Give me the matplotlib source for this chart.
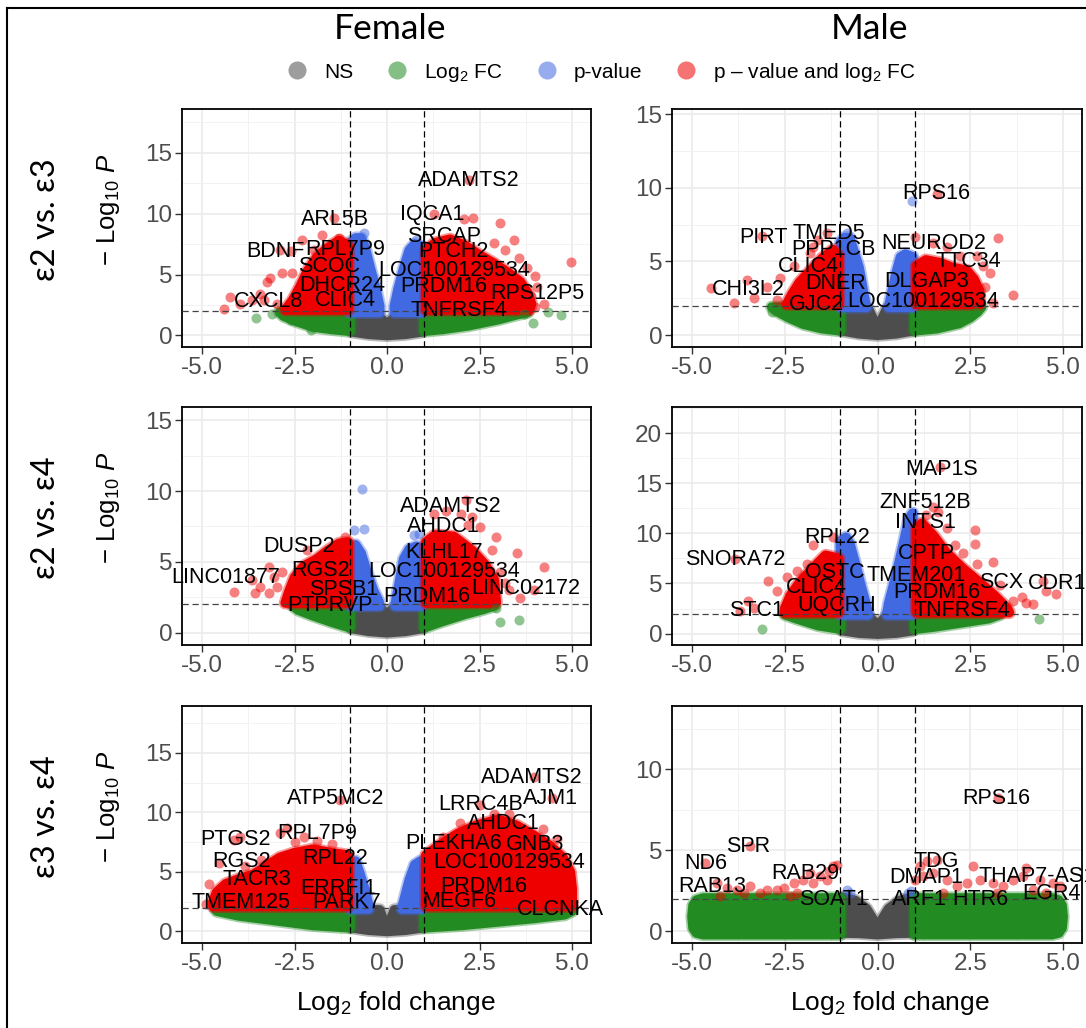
"""Volcano plots (Female / Male, three APOE genotype contrasts)."""

import matplotlib
matplotlib.use("Agg")
import matplotlib.pyplot as plt
from matplotlib.lines import Line2D

plt.rcParams["font.family"] = ["Liberation Sans", "DejaVu Sans"]
plt.rcParams["mathtext.fontset"] = "custom"
plt.rcParams["mathtext.rm"] = "Liberation Sans"
plt.rcParams["mathtext.it"] = "Liberation Sans:italic"

W, H = 1086, 1028
TITLE_FONT = ["Lato", "Noto Sans", "DejaVu Sans"]

NS_COL = "#4D4D4D"     # grey30
FC_COL = "#228B22"     # forestgreen
P_COL = "#4169E1"      # royalblue
BOTH_COL = "#EE0000"   # red2

COLUMNS = ["Female", "Male"]
ROWS = ["\u03b52 vs. \u03b53", "\u03b52 vs. \u03b54", "\u03b53 vs. \u03b54"]
LEGEND_LABELS = ["NS", "Log$_2$ FC", "p-value", "p \u2013 value and log$_2$ FC"]
X_TICKS = [-5.0, -2.5, 0.0, 2.5, 5.0]
FC_CUT = 1.0
P_CUT = 2.0

# ---------------------------------------------------------------
# Point clouds: dense regions are given as the
# outline of the point centres, sparse points individually.
# ---------------------------------------------------------------

# Female, e2 vs e3
F23_YLIM = (-0.95, 18.6)
F23_YTICKS = [0, 5, 10, 15]
F23_NS = [(-0.95, 0.3), (-0.95, 1.8), (-0.3, 1.8), (-0.1, 1.2), (0, 0.85), (0.1, 1.2),
          (0.3, 1.8), (0.95, 1.8), (0.95, 0.3), (0.5, 0.1), (0, 0.0), (-0.5, 0.1)]
F23_FC_L = [(-1.0, 0.35), (-1.5, 0.5), (-2.0, 0.7), (-2.5, 1.2), (-2.8, 1.6), (-2.9, 1.9), (-1.0, 1.9)]
F23_FC_R = [(1.0, 0.35), (1.5, 0.5), (2.2, 0.8), (3.0, 1.3), (3.5, 1.7), (3.8, 1.9), (1.0, 1.9)]
F23_FC_PTS = [(-3.55, 1.45), (-3.1, 1.8), (-2.6, 1.25), (-2.05, 0.45), (3.7, 1.8), (3.95, 1.0),
              (4.35, 1.9), (4.7, 1.65)]
F23_P_L = [(-1.0, 1.9), (-1.0, 7.6), (-0.85, 8.0), (-0.7, 8.0), (-0.6, 7.3), (-0.45, 5.5),
           (-0.3, 3.8), (-0.2, 2.4), (-0.2, 1.9)]
F23_P_R = [(0.2, 1.9), (0.2, 2.4), (0.3, 3.8), (0.45, 5.5), (0.6, 7.0), (0.75, 7.5), (0.95, 7.3), (0.95, 1.9)]
F23_P_PTS = [(-0.63, 8.4), (0.77, 7.85)]
F23_BOTH_L = [(-1.05, 2.1), (-1.05, 7.4), (-1.3, 7.8), (-1.6, 7.2), (-1.9, 6.4), (-2.15, 5.3),
              (-2.35, 4.0), (-2.55, 2.9), (-2.75, 2.1)]
F23_BOTH_R = [(1.05, 2.1), (1.05, 7.0), (1.3, 7.6), (1.7, 7.9), (2.1, 7.4), (2.5, 6.6), (2.9, 5.9),
              (3.3, 5.1), (3.6, 4.4), (3.8, 3.5), (3.9, 2.6), (3.85, 2.1)]
F23_BOTH_PTS = [(-4.4, 2.2), (-4.23, 3.17), (-3.96, 2.6), (-3.65, 2.9), (-3.42, 3.44), (-3.33, 2.9),
                (-3.24, 4.4), (-3.15, 4.68), (-2.97, 2.6), (-2.84, 5.1), (-2.57, 5.09), (-2.9, 7.0),
                (-2.6, 6.9), (-2.3, 7.84), (-1.98, 7.0), (-1.76, 8.26), (-1.44, 9.63), (-1.31, 8.0),
                (2.21, 12.8), (2.32, 9.63), (3.06, 9.22), (1.26, 10.0), (2.07, 9.6), (3.42, 7.84),
                (3.2, 7.0), (2.88, 7.57), (4.97, 6.05), (3.56, 6.33), (3.78, 5.5), (4.0, 4.9),
                (4.05, 4.0), (3.9, 3.2), (4.23, 2.6), (4.0, 2.3)]
F23_GENES = [("ADAMTS2", 2.21, 12.74), ("IQCA1", 1.22, 9.91), ("ARL5B", -1.40, 9.5),
             ("SRCAP", 1.53, 8.12), ("BDNF", -3.02, 6.88), ("RPL7P9", -1.13, 7.02),
             ("PTCH2", 1.80, 6.88), ("SCOC", -1.58, 5.64), ("LOC100129534", 1.80, 5.37),
             ("DHCR24", -1.22, 4.13), ("PRDM16", 1.53, 3.99), ("RPS12P5", 4.05, 3.44),
             ("CXCL8", -3.2, 2.75), ("CLIC4", -1.13, 2.89), ("TNFRSF4", 1.94, 2.06)]

# Male, e2 vs e3
M23_YLIM = (-0.8, 15.34)
M23_YTICKS = [0, 5, 10, 15]
M23_NS = [(-0.95, 0.3), (-0.95, 1.8), (-0.25, 1.8), (-0.1, 1.0), (0, 0.45), (0.1, 1.0),
          (0.25, 1.8), (0.95, 1.8), (0.95, 0.3), (0.5, 0.1), (0, 0.0), (-0.5, 0.1)]
M23_FC_L = [(-1.0, 0.3), (-1.5, 0.45), (-2.0, 0.75), (-2.4, 1.2), (-2.7, 1.6), (-2.85, 1.9), (-1.0, 1.9)]
M23_FC_R = [(1.0, 0.3), (1.6, 0.45), (2.2, 0.8), (2.5, 1.2), (2.7, 1.6), (2.8, 1.9), (1.0, 1.9)]
M23_FC_PTS = [(-2.85, 1.6), (-2.35, 1.15), (2.65, 1.6)]
M23_P_L = [(-1.0, 1.9), (-1.0, 6.3), (-0.9, 6.6), (-0.75, 6.6), (-0.65, 5.8), (-0.5, 4.6),
           (-0.35, 2.5), (-0.3, 1.9)]
M23_P_R = [(0.3, 1.9), (0.35, 2.5), (0.5, 4.2), (0.62, 5.3), (0.75, 5.5), (0.95, 5.3), (0.95, 1.9)]
M23_P_PTS = [(0.92, 9.1), (-0.83, 6.9)]
M23_BOTH_L = [(-1.05, 2.1), (-1.05, 5.4), (-1.2, 5.8), (-1.5, 5.2), (-1.8, 4.4), (-2.1, 3.6),
              (-2.3, 2.8), (-2.45, 2.1)]
M23_BOTH_R = [(1.05, 2.1), (1.05, 4.7), (1.3, 5.1), (1.7, 4.9), (2.0, 4.6), (2.4, 4.4), (2.6, 3.8),
              (2.75, 3.0), (2.75, 2.1)]
M23_BOTH_PTS = [(-4.5, 3.18), (-3.88, 2.16), (-3.52, 3.75), (-3.34, 2.5), (-3.12, 6.75), (-2.98, 3.3),
                (-2.71, 2.4), (-2.62, 3.86), (-2.26, 4.66), (-1.82, 5.57), (-1.73, 6.0), (-1.6, 6.48),
                (-1.37, 6.93), (1.59, 9.55), (1.01, 6.66), (1.5, 6.25), (1.86, 6.0), (2.22, 5.34),
                (2.67, 5.34), (2.85, 4.66), (3.03, 4.2), (2.89, 3.3), (3.12, 2.16), (3.25, 6.59),
                (3.65, 2.73)]
M23_GENES = [("RPS16", 1.59, 9.61), ("PIRT", -3.07, 6.64), ("TMED5", -1.32, 6.93),
             ("PPP1CB", -1.19, 5.8), ("NEUROD2", 1.5, 6.2), ("CLIC4", -1.86, 4.66),
             ("TTC34", 2.44, 5.0), ("DNER", -1.14, 3.52), ("DLGAP3", 1.32, 3.64),
             ("CHI3L2", -3.48, 3.07), ("GJC2", -1.64, 2.11), ("LOC100129534", 1.23, 2.27)]

# Female, e2 vs e4
F24_YLIM = (-0.87, 15.94)
F24_YTICKS = [0, 5, 10, 15]
F24_NS = [(-0.95, 0.3), (-0.95, 1.8), (-0.2, 1.8), (-0.05, 1.4), (0, 1.35), (0.05, 1.4),
          (0.2, 1.8), (0.95, 1.8), (0.95, 0.3), (0.5, 0.1), (0, 0.0), (-0.5, 0.1)]
F24_FC_L = [(-1.0, 0.35), (-1.5, 0.75), (-2.0, 1.2), (-2.4, 1.6), (-2.55, 1.9), (-1.0, 1.9)]
F24_FC_R = [(1.0, 0.35), (1.5, 0.8), (2.1, 1.3), (2.6, 1.65), (2.9, 1.9), (1.0, 1.9)]
F24_FC_PTS = [(3.06, 0.78), (3.56, 0.89), (2.93, 1.72)]
F24_P_L = [(-1.0, 1.9), (-1.0, 6.0), (-0.85, 6.2), (-0.7, 5.6), (-0.57, 4.5), (-0.37, 3.0),
           (-0.22, 2.2), (-0.2, 1.9)]
F24_P_R = [(0.22, 1.9), (0.25, 2.4), (0.35, 3.8), (0.45, 5.2), (0.6, 5.9), (0.8, 6.1), (0.95, 5.9),
           (0.95, 1.9)]
F24_P_PTS = [(-0.69, 10.13), (-0.9, 7.24), (-0.63, 7.29), (0.72, 6.89), (0.85, 7.0)]
F24_BOTH_L = [(-1.05, 2.1), (-1.05, 6.4), (-1.3, 6.3), (-1.6, 5.8), (-1.9, 5.2), (-2.25, 4.7),
              (-2.5, 3.9), (-2.65, 2.9), (-2.75, 2.1)]
F24_BOTH_R = [(1.05, 2.1), (1.05, 6.4), (1.3, 6.9), (1.8, 6.8), (2.3, 5.8), (2.65, 4.8), (2.9, 3.7),
              (2.95, 2.1)]
F24_BOTH_PTS = [(-4.14, 2.89), (-3.65, 3.71), (-3.56, 2.77), (-3.42, 3.24), (-3.2, 4.66), (-3.2, 2.77),
                (-3.06, 3.95), (-2.97, 3.24), (-2.84, 4.3), (-2.16, 5.83), (-1.13, 6.77),
                (2.12, 9.36), (1.26, 8.4), (1.6, 8.6), (2.0, 8.4), (2.3, 8.2), (2.2, 7.6), (2.52, 7.48),
                (2.93, 6.77), (2.84, 5.83), (3.51, 5.6), (4.23, 4.66), (3.96, 3.0), (3.29, 3.0),
                (3.6, 2.42), (3.2, 3.5), (3.06, 4.3)]
F24_GENES = [("ADAMTS2", 1.71, 8.89), ("AHDC1", 1.53, 7.52), ("DUSP2", -2.39, 6.07),
             ("KLHL17", 1.53, 5.64), ("RGS2", -1.8, 4.42), ("LOC100129534", 1.53, 4.35),
             ("LINC01877", -4.37, 3.9), ("LINC02172", 3.74, 3.13), ("SPSB1", -1.17, 3.08),
             ("PRDM16", 1.08, 2.54), ("PTPRVP", -1.53, 1.95)]

# Male, e2 vs e4
M24_YLIM = (-1.14, 22.6)
M24_YTICKS = [0, 5, 10, 15, 20]
M24_NS = [(-0.95, 0.3), (-0.95, 1.8), (-0.25, 1.8), (-0.1, 1.2), (0, 0.8), (0.1, 1.2),
          (0.25, 1.8), (0.95, 1.8), (0.95, 0.3), (0.5, 0.05), (0, -0.05), (-0.5, 0.05)]
M24_FC_L = [(-1.0, 0.45), (-1.6, 0.8), (-2.2, 1.5), (-2.5, 1.9), (-1.0, 1.9)]
M24_FC_R = [(1.0, 0.45), (1.5, 0.65), (2.3, 1.1), (3.0, 1.5), (3.3, 1.9), (1.0, 1.9)]
M24_FC_PTS = [(-3.12, 0.43), (4.35, 1.44)]
M24_P_L = [(-1.0, 1.9), (-1.0, 9.2), (-0.85, 9.6), (-0.75, 9.0), (-0.6, 7.0), (-0.45, 4.8),
           (-0.3, 2.8), (-0.25, 1.9)]
M24_P_R = [(0.25, 1.9), (0.3, 3.0), (0.5, 5.8), (0.7, 9.0), (0.85, 11.5), (0.95, 12.0), (0.95, 1.9)]
M24_P_PTS = []
M24_BOTH_L = [(-1.05, 2.1), (-1.05, 7.5), (-1.4, 7.8), (-1.75, 6.5), (-2.1, 5.1), (-2.35, 3.8),
              (-2.5, 2.5), (-2.5, 2.1)]
M24_BOTH_R = [(1.05, 2.1), (1.05, 10.5), (1.2, 11.0), (1.5, 9.8), (1.85, 8.1), (2.3, 6.5),
              (2.75, 5.1), (3.15, 3.8), (3.5, 2.5), (3.55, 2.1)]
M24_BOTH_PTS = [(-3.83, 7.46), (-3.7, 2.27), (-3.48, 3.28), (-3.34, 2.6), (-2.94, 5.28), (-2.71, 4.28),
                (-2.44, 5.62), (-2.17, 6.29), (-1.91, 6.96), (-1.73, 8.8), (-1.19, 9.63),
                (1.68, 16.6), (1.5, 12.6), (1.64, 12.1), (1.3, 11.8), (1.86, 10.5), (2.62, 10.3),
                (2.62, 8.96), (2.08, 8.8), (2.3, 8.0), (2.67, 6.96), (3.12, 7.12), (3.3, 4.8),
                (3.65, 3.28), (3.9, 3.6), (4.0, 3.0), (4.19, 2.94), (4.46, 5.28), (4.55, 4.28),
                (4.82, 3.95)]
M24_GENES = [("MAP1S", 1.73, 16.4), ("ZNF512B", 1.28, 13.1), ("INTS1", 1.28, 11.1),
             ("RPL22", -1.1, 9.63), ("CPTP", 1.32, 7.96), ("SNORA72", -3.83, 7.36),
             ("OSTC", -1.14, 6.12), ("TMEM201", 1.05, 5.79), ("SCX", 3.34, 5.12),
             ("CDR1", 4.85, 4.95), ("CLIC4", -1.64, 4.62), ("PRDM16", 1.59, 4.11),
             ("STC1", -3.25, 2.27), ("UQCRH", -1.1, 2.78), ("TNFRSF4", 2.26, 2.34)]

# Female, e3 vs e4
F34_YLIM = (-0.98, 18.94)
F34_YTICKS = [0, 5, 10, 15]
F34_NS = [(-0.95, 0.3), (-0.95, 1.8), (-0.2, 1.8), (-0.08, 0.8), (0, 0.3), (0.08, 0.8),
          (0.2, 1.8), (0.95, 1.8), (0.95, 0.3), (0.5, 0.1), (0, 0.0), (-0.5, 0.1)]
F34_FC_L = [(-1.0, 0.3), (-2.0, 0.5), (-3.0, 0.9), (-4.0, 1.3), (-4.6, 1.7), (-4.65, 1.9), (-1.0, 1.9)]
F34_FC_R = [(1.0, 0.3), (2.0, 0.5), (3.0, 0.8), (4.0, 1.1), (4.8, 1.4), (5.0, 1.7), (5.0, 1.9), (1.0, 1.9)]
F34_FC_PTS = []
F34_P_L = [(-1.0, 1.9), (-1.0, 5.8), (-0.85, 5.9), (-0.75, 5.0), (-0.6, 3.5), (-0.5, 2.2), (-0.5, 1.9)]
F34_P_R = [(0.4, 1.9), (0.45, 2.5), (0.6, 4.3), (0.75, 5.6), (0.9, 5.9), (0.95, 1.9)]
F34_P_PTS = []
F34_BOTH_L = [(-1.05, 2.1), (-1.05, 6.4), (-1.5, 6.6), (-2.0, 6.9), (-2.5, 6.6), (-2.9, 6.2),
              (-3.2, 5.6), (-3.6, 4.8), (-4.0, 4.4), (-4.35, 4.0), (-4.6, 3.3), (-4.7, 2.5), (-4.7, 2.1)]
F34_BOTH_R = [(1.05, 2.1), (1.05, 6.4), (1.4, 7.2), (1.9, 8.2), (2.4, 8.9), (3.0, 9.4), (3.5, 8.9),
              (4.0, 8.0), (4.4, 7.2), (4.75, 6.2), (4.95, 5.0), (5.0, 3.6), (5.0, 2.1)]
F34_BOTH_PTS = [(-4.9, 2.3), (-4.8, 4.0), (-4.55, 5.78), (-4.14, 7.68), (-3.96, 7.96), (-3.85, 5.5),
                (-3.4, 6.0), (-3.2, 5.87), (-2.88, 8.24), (-2.7, 8.66), (-2.5, 7.5), (-2.25, 7.96),
                (-1.9, 7.6), (-1.5, 7.3), (-1.26, 11.03), (1.5, 7.9), (1.98, 9.08), (2.52, 10.61),
                (2.88, 9.9), (3.3, 9.9), (3.96, 12.99), (4.2, 8.6), (4.46, 11.17), (4.6, 7.8)]
F34_GENES = [("ADAMTS2", 3.92, 12.9), ("AJM1", 4.41, 11.17), ("ATP5MC2", -1.4, 11.17),
             ("LRRC4B", 2.52, 10.7), ("AHDC1", 3.15, 9.08), ("PTGS2", -4.1, 7.68),
             ("RPL7P9", -1.89, 8.24), ("PLEKHA6", 1.8, 7.4), ("GNB3", 4.0, 7.32),
             ("RGS2", -3.92, 5.87), ("RPL22", -1.4, 6.15), ("LOC100129534", 3.29, 5.78),
             ("TACR3", -3.51, 4.39), ("ERRFI1", -1.31, 3.63), ("PRDM16", 2.61, 3.77),
             ("TMEM125", -3.96, 2.43), ("PARK7", -1.08, 2.43), ("MEGF6", 1.94, 2.51),
             ("CLCNKA", 4.68, 1.87)]

# Male, e3 vs e4
M34_YLIM = (-0.72, 13.9)
M34_YTICKS = [0, 5, 10]
M34_NS = [(-0.95, -0.1), (-0.95, 2.1), (-0.6, 1.9), (-0.3, 1.4), (0, 0.3), (0.3, 1.4), (0.6, 1.9),
          (0.95, 2.1), (0.95, -0.1), (0.5, -0.12), (0, -0.2), (-0.5, -0.12)]
M34_FC_L = [(-1.0, -0.2), (-4.7, -0.2), (-4.88, -0.1), (-4.97, 0.2), (-5.0, 0.9), (-4.97, 1.6),
            (-4.88, 1.92), (-4.7, 2.05), (-1.0, 2.05)]
M34_FC_R = [(1.0, -0.2), (4.7, -0.2), (4.88, -0.1), (4.97, 0.2), (5.0, 0.9), (4.97, 1.6),
            (4.88, 1.92), (4.7, 2.05), (1.0, 2.05)]
M34_FC_PTS = []
M34_P_L = []
M34_P_R = []
M34_P_PTS = [(-0.83, 2.57), (-0.74, 2.36), (0.83, 2.36), (0.9, 2.5)]
M34_BOTH_L = []
M34_BOTH_R = []
M34_BOTH_PTS = [(-4.64, 4.21), (-3.43, 5.24), (-4.33, 2.98), (-4.06, 2.67), (-3.79, 2.57), (-3.43, 2.77),
                (-3.61, 2.36), (-4.24, 2.16), (-3.16, 2.36), (-2.98, 2.57), (-2.71, 2.57), (-2.53, 2.67),
                (-2.35, 2.16), (-2.26, 2.98), (-2.17, 2.36), (-2.0, 3.18), (-1.82, 3.59), (-1.73, 2.98),
                (-1.55, 3.39), (-1.37, 3.18), (-1.32, 3.7), (-1.19, 4.0), (-1.1, 4.1),
                (1.01, 3.18), (1.14, 4.0), (1.23, 3.39), (1.32, 4.31), (1.5, 3.59), (1.59, 4.41),
                (1.77, 2.36), (1.86, 3.18), (2.13, 2.77), (2.4, 2.98), (2.58, 4.05), (2.76, 3.18),
                (3.12, 2.98), (3.21, 2.36), (3.25, 8.21), (3.39, 2.77), (3.65, 3.18), (3.92, 3.39),
                (4.01, 3.9), (4.19, 2.57), (4.37, 3.18), (4.55, 2.36), (4.73, 2.98), (4.91, 2.77)]
M34_GENES = [("RPS16", 3.21, 8.17), ("SPR", -3.48, 5.24), ("ND6", -4.64, 4.21),
             ("TDG", 1.59, 4.31), ("RAB29", -1.95, 3.55), ("DMAP1", 1.32, 3.33),
             ("THAP7-AS1", 4.3, 3.39), ("RAB13", -4.46, 2.77), ("EGR4", 4.69, 2.36),
             ("SOAT1", -1.19, 1.99), ("ARF1", 1.14, 1.99), ("HTR6", 2.76, 1.99)]

PANELS = [
    [dict(ylim=F23_YLIM, yticks=F23_YTICKS, ns=F23_NS, fc=[F23_FC_L, F23_FC_R], fc_pts=F23_FC_PTS,
          p=[F23_P_L, F23_P_R], p_pts=F23_P_PTS, both=[F23_BOTH_L, F23_BOTH_R],
          both_pts=F23_BOTH_PTS, genes=F23_GENES),
     dict(ylim=M23_YLIM, yticks=M23_YTICKS, ns=M23_NS, fc=[M23_FC_L, M23_FC_R], fc_pts=M23_FC_PTS,
          p=[M23_P_L, M23_P_R], p_pts=M23_P_PTS, both=[M23_BOTH_L, M23_BOTH_R],
          both_pts=M23_BOTH_PTS, genes=M23_GENES)],
    [dict(ylim=F24_YLIM, yticks=F24_YTICKS, ns=F24_NS, fc=[F24_FC_L, F24_FC_R], fc_pts=F24_FC_PTS,
          p=[F24_P_L, F24_P_R], p_pts=F24_P_PTS, both=[F24_BOTH_L, F24_BOTH_R],
          both_pts=F24_BOTH_PTS, genes=F24_GENES),
     dict(ylim=M24_YLIM, yticks=M24_YTICKS, ns=M24_NS, fc=[M24_FC_L, M24_FC_R], fc_pts=M24_FC_PTS,
          p=[M24_P_L, M24_P_R], p_pts=M24_P_PTS, both=[M24_BOTH_L, M24_BOTH_R],
          both_pts=M24_BOTH_PTS, genes=M24_GENES)],
    [dict(ylim=F34_YLIM, yticks=F34_YTICKS, ns=F34_NS, fc=[F34_FC_L, F34_FC_R], fc_pts=F34_FC_PTS,
          p=[F34_P_L, F34_P_R], p_pts=F34_P_PTS, both=[F34_BOTH_L, F34_BOTH_R],
          both_pts=F34_BOTH_PTS, genes=F34_GENES),
     dict(ylim=M34_YLIM, yticks=M34_YTICKS, ns=M34_NS, fc=[M34_FC_L, M34_FC_R], fc_pts=M34_FC_PTS,
          p=[M34_P_L, M34_P_R], p_pts=M34_P_PTS, both=[M34_BOTH_L, M34_BOTH_R],
          both_pts=M34_BOTH_PTS, genes=M34_GENES)],
]

# panel boxes in pixels (left, right) and (top, bottom)
COL_PX = [(182, 591), (672, 1082)]
ROW_PX = [(109, 347), (407, 645), (706, 943)]
TITLE_X = [390, 870]
XLABEL_X = [396, 890]

DOT_S = 52      # scatter size of one gene
DOT_LW = 7.0    # outline width that rounds the dense regions like the dots


def draw_cloud(ax, outline, color, z):
    if not outline:
        return
    xs, ys = zip(*outline)
    # translucent fringe of the outermost dots, then the saturated core
    ax.fill(xs, ys, facecolor=color, edgecolor=color, lw=DOT_LW + 2.5,
            joinstyle="round", alpha=0.4, zorder=z - 0.05)
    ax.fill(xs, ys, facecolor=color, edgecolor=color, lw=DOT_LW,
            joinstyle="round", zorder=z)


def draw_points(ax, pts, color, z):
    if not pts:
        return
    xs, ys = zip(*pts)
    ax.scatter(xs, ys, s=DOT_S, c=color, alpha=0.5, linewidths=0, zorder=z)


def draw_panel(ax, cfg):
    ax.set_xlim(-5.54, 5.51)
    ax.set_xticks(X_TICKS)
    ax.set_xticklabels([f"{t:.1f}" for t in X_TICKS])
    ax.set_xticks([-3.75, -1.25, 1.25, 3.75], minor=True)
    yt = cfg["yticks"]
    ax.set_yticks(yt)
    ax.set_yticks([t + 2.5 for t in yt], minor=True)
    ax.set_ylim(*cfg["ylim"])
    ax.grid(which="major", color="#EBEBEB", lw=1.2, zorder=0)
    ax.grid(which="minor", color="#F2F2F2", lw=0.7, zorder=0)
    ax.set_axisbelow(True)
    ax.tick_params(which="major", direction="out", length=5, width=1.0, color="#333333",
                   labelsize=17.5, labelcolor="#4D4D4D", pad=2)
    ax.tick_params(which="minor", length=0)
    for sp in ax.spines.values():
        sp.set_linewidth(1.3)
        sp.set_color("black")

    draw_cloud(ax, cfg["ns"], NS_COL, 1)
    for o in cfg["fc"]:
        draw_cloud(ax, o, FC_COL, 1.1)
    for o in cfg["p"]:
        draw_cloud(ax, o, P_COL, 1.2)
    for o in cfg["both"]:
        draw_cloud(ax, o, BOTH_COL, 1.3)
    draw_points(ax, cfg["fc_pts"], FC_COL, 2)
    draw_points(ax, cfg["p_pts"], P_COL, 2.1)
    draw_points(ax, cfg["both_pts"], BOTH_COL, 2.2)

    for xv in (-FC_CUT, FC_CUT):
        ax.axvline(xv, color="black", lw=0.9, ls=(0, (5, 3)), zorder=3)
    ax.axhline(P_CUT, color="#444444", lw=0.9, ls=(0, (5, 3)), zorder=3)

    for name, x, y in cfg["genes"]:
        ax.text(x, y, name, ha="center", va="center", fontsize=15.5, color="black",
                zorder=4, clip_on=False)


fig = plt.figure(figsize=(W / 100, H / 100), dpi=100)

for r, row in enumerate(PANELS):
    top, bot = ROW_PX[r]
    mid = (top + bot) / 2
    for c, cfg in enumerate(row):
        left, right = COL_PX[c]
        ax = fig.add_axes([left / W, 1 - bot / H, (right - left) / W, (bot - top) / H])
        draw_panel(ax, cfg)
    fig.text(108 / W, 1 - (mid - 18) / H, "\u2212 Log$_{10}$ $\\mathit{P}$",
             rotation=90, ha="center", va="center", fontsize=18.5)
    fig.text(46 / W, 1 - (mid - 8) / H, ROWS[r], rotation=90, ha="center",
             va="center", fontsize=23.5, family=TITLE_FONT)

for c, name in enumerate(COLUMNS):
    fig.text(TITLE_X[c] / W, 1 - 29 / H, name, ha="center", va="center",
             fontsize=25.5, family=TITLE_FONT)
    fig.text(XLABEL_X[c] / W, 1 - 1003 / H, "Log$_2$ fold change", ha="center",
             va="center", fontsize=19)

handles = [Line2D([], [], ls="", marker="o", ms=13, mew=0, color=col, alpha=0.55)
           for col in (NS_COL, FC_COL, P_COL, BOTH_COL)]
fig.legend(handles, LEGEND_LABELS, loc="center", bbox_to_anchor=(596 / W, 1 - 72 / H),
           ncol=4, frameon=False, fontsize=15, handletextpad=0.3, columnspacing=1.1,
           borderaxespad=0)

# outer frame of the original figure (only left and top edges are visible)
fig.add_artist(Line2D([7 / W, 7 / W], [0, 1 - 8 / H], transform=fig.transFigure,
                      color="black", lw=1.5))
fig.add_artist(Line2D([7 / W, 1], [1 - 8 / H, 1 - 8 / H], transform=fig.transFigure,
                      color="black", lw=1.5))

fig.savefig("out.png", dpi=100)
